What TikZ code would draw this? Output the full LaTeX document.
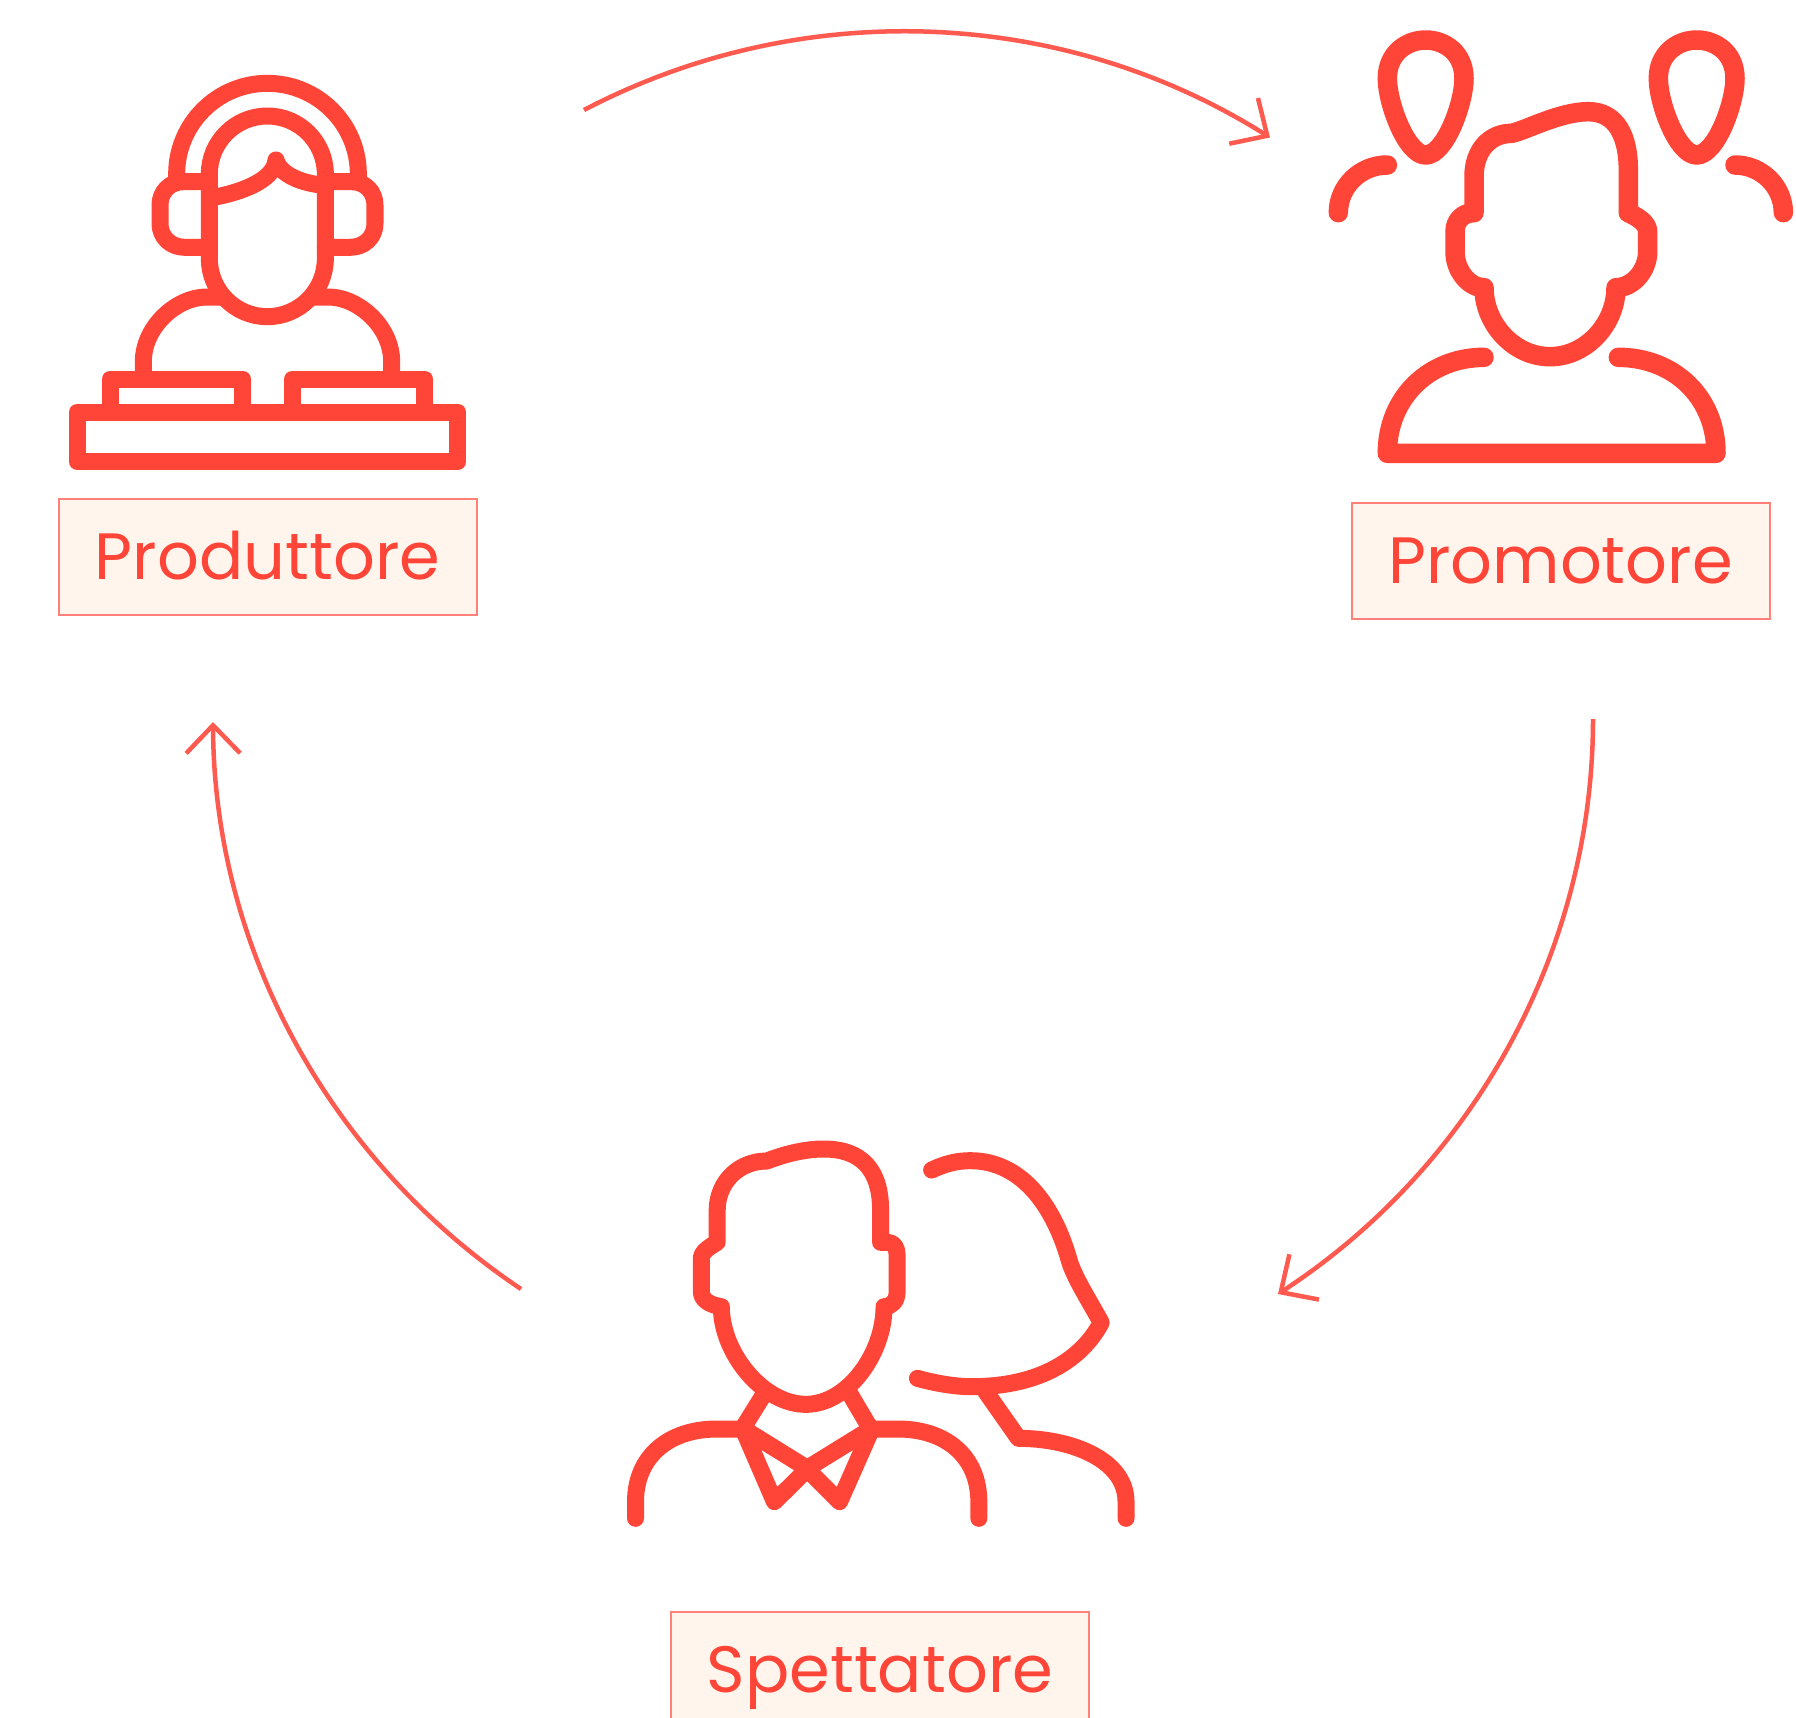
\documentclass[tikz,border=0pt]{standalone}
\usepackage{fontspec}
\setmainfont{Poppins}
\usetikzlibrary{arrows.meta}
\definecolor{iconred}{HTML}{FF4438}
\definecolor{arcred}{HTML}{FF5A50}
\definecolor{boxfill}{HTML}{FFF5EC}
\definecolor{boxline}{HTML}{FF8078}
\tikzset{
  labelbox/.style={draw=boxline,fill=boxfill,line width=2pt,minimum width=418pt,minimum height=116pt,inner sep=0pt,text=iconred,font=\fontsize{65.5}{65.5}\selectfont,text height=44pt,text depth=0pt,anchor=center},
  iconline/.style={draw=iconred,line width=17pt,line cap=round,line join=round},
  iconthick/.style={draw=iconred,line width=19.5pt,line cap=round,line join=round},
  iconman/.style={draw=iconred,line width=17pt,line cap=round,line join=round},
  cyclearrow/.style={draw=arcred,line width=4.5pt,-{Straight Barb[length=28pt,width=54pt,line width=4.5pt]}},
}
\begin{document}
\begin{tikzpicture}[x=1pt,y=-1pt]
\path[use as bounding box] (0,0) rectangle (1796,1717);
\clip (0,0) rectangle (1796,1717);
\fill[white] (0,0) rectangle (1796,1717);

% produttore
\begin{scope}[shift={(50,60)},x=.33333pt,y=-.33333pt]
\draw[iconline] (81,1056) rectangle (1224,1205);
\draw[iconline] (180,1056) -- (180,957) -- (578,957) -- (578,1056);
\draw[iconline] (727,1056) -- (727,957) -- (1125,957) -- (1125,1056);
\draw[iconline] (280,957) -- (280,905) .. controls (280,800) and (380,711) .. (470,711) -- (515,711);
\draw[iconline] (1025,957) -- (1025,905) .. controls (1025,800) and (925,711) .. (835,711) -- (790,711);
\draw[iconline] (478,596) -- (478,342) .. controls (478,246) and (556,168) .. (652,168) .. controls (748,168) and (826,246) .. (826,342) -- (826,596) .. controls (826,692) and (748,770) .. (652,770) .. controls (556,770) and (478,692) .. (478,596) -- cycle;
\draw[iconline] (380,365) -- (380,342) .. controls (380,192) and (502,70) .. (652,70) .. controls (803,70) and (925,192) .. (925,342) -- (925,365);
\draw[iconline] (478,365) -- (400,365) .. controls (360,365) and (330,395) .. (330,435) -- (330,490) .. controls (330,532) and (362,562) .. (405,562) -- (478,562);
\draw[iconline] (826,365) -- (905,365) .. controls (945,365) and (975,395) .. (975,435) -- (975,490) .. controls (975,532) and (943,562) .. (900,562) -- (826,562);
\draw[iconline] (490,412) .. controls (560,400) and (672,365) .. (678,300) .. controls (690,345) and (760,372) .. (826,376);
\end{scope}

% promotore
\begin{scope}[shift={(1310,20)},x=.33333pt,y=-.33333pt]
\draw[iconthick] (232,175) .. controls (232,100) and (290,60) .. (347,60) .. controls (405,60) and (462,100) .. (462,175) .. controls (462,250) and (405,405) .. (347,405) .. controls (290,405) and (232,250) .. (232,175) -- cycle;
\draw[iconthick] (1045,175) .. controls (1045,100) and (1103,60) .. (1160,60) .. controls (1218,60) and (1275,100) .. (1275,175) .. controls (1275,250) and (1218,405) .. (1160,405) .. controls (1103,405) and (1045,250) .. (1045,175) -- cycle;
\draw[iconthick] (232,435) .. controls (150,435) and (85,500) .. (85,578);
\draw[iconthick] (1275,435) .. controls (1355,435) and (1420,500) .. (1420,578);
\draw[iconthick] (492,578) -- (492,470) .. controls (492,390) and (540,340) .. (605,340) .. controls (650,330) and (750,275) .. (835,275) .. controls (920,275) and (955,350) .. (955,450) -- (955,578) .. controls (985,592) and (1013,610) .. (1013,635) -- (1013,695) .. controls (1013,750) and (970,803) .. (918,803) .. controls (918,910) and (830,1010) .. (720,1010) .. controls (610,1010) and (522,910) .. (522,803) .. controls (475,803) and (435,750) .. (435,695) -- (435,635) .. controls (435,600) and (460,578) .. (492,578) -- cycle;
\draw[iconthick] (522,1012) .. controls (360,1012) and (232,1130) .. (232,1300) -- (1218,1300) .. controls (1218,1130) and (1090,1012) .. (925,1012);
\end{scope}

% spettatore
\begin{scope}[shift={(610,1120)},x=.3447pt,y=-.33333pt]
\draw[iconman] (311,367) -- (311,270) .. controls (311,190) and (370,123) .. (455,123) .. controls (500,105) and (560,87) .. (620,87) .. controls (730,87) and (785,150) .. (785,270) -- (785,367) -- (805,367) .. controls (825,367) and (833,385) .. (833,405) -- (833,515) .. controls (833,540) and (820,560) .. (795,560) .. controls (795,700) and (690,853) .. (568,853) .. controls (445,853) and (323,700) .. (323,560) .. controls (290,555) and (265,540) .. (265,515) -- (265,415) .. controls (265,395) and (290,380) .. (311,367) -- cycle;
\draw[iconman] (442,830) -- (385,925) -- (477,1145) -- (572,1048) -- (666,1145) -- (760,925) -- (572,1045) -- (385,925);
\draw[iconman] (695,820) -- (755,925);
\draw[iconman] (74,1195) -- (74,1145) .. controls (74,1010) and (170,927) .. (310,927) -- (385,927);
\draw[iconman] (1070,1195) -- (1070,1145) .. controls (1070,1010) and (975,927) .. (835,927) -- (760,927);
\draw[iconman] (933,150) .. controls (970,132) and (1005,122) .. (1045,122) .. controls (1190,122) and (1285,250) .. (1332,420) .. controls (1345,470) and (1395,550) .. (1425,608) .. controls (1370,715) and (1250,800) .. (1050,800) .. controls (1000,800) and (945,790) .. (892,775);
\draw[iconman] (1090,815) -- (1185,955) .. controls (1340,955) and (1497,1020) .. (1497,1145) -- (1497,1195);
\end{scope}

\node[labelbox] (produttore) at (267.5,557) {Produttore};
\node[labelbox] (promotore) at (1560.5,561) {Promotore};
\node[labelbox] (spettatore) at (880,1670) {Spettatore};

\coordinate (prodout) at (584,110);
\coordinate (promin) at (1270,137.5);
\coordinate (promout) at (1593,719);
\coordinate (spetin) at (1278,1294);
\coordinate (spetout) at (521,1289);
\coordinate (prodin) at (213,722);
\draw[cyclearrow] (prodout) .. controls (800.9,-3.5) and (1061.8,6.5) .. (promin);
\draw[cyclearrow] (promout) .. controls (1593,951.4) and (1472.7,1167) .. (spetin);
\draw[cyclearrow] (spetout) .. controls (331.1,1161.9) and (214,950.5) .. (prodin);
\end{tikzpicture}
\end{document}
